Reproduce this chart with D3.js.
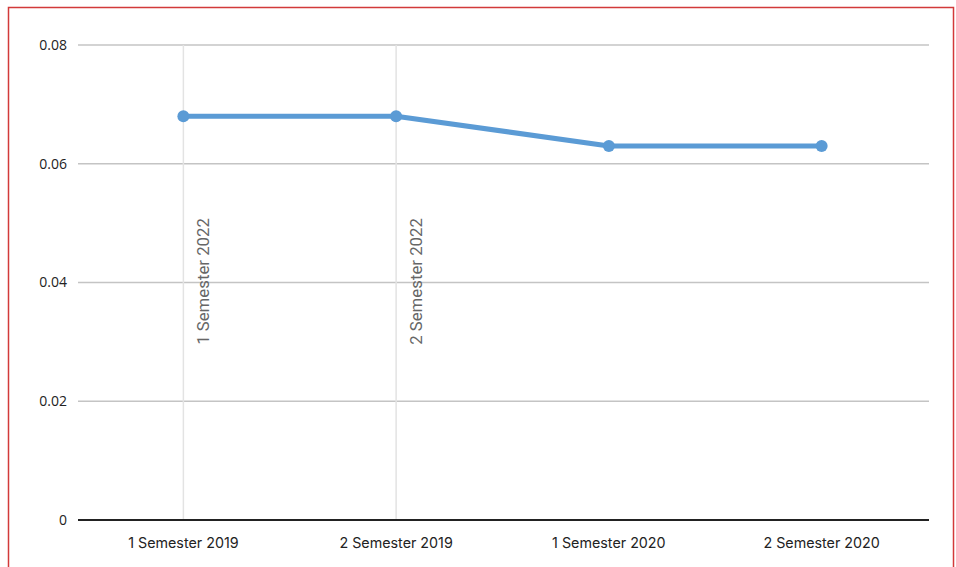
<!DOCTYPE html>
<html><head><meta charset="utf-8">
<script src="https://cdn.jsdelivr.net/npm/d3@7"></script>
<style>
html,body{margin:0;padding:0;background:#fff;}
svg{display:block;}
</style></head>
<body>
<svg id="chart" width="956" height="567"></svg>
<script>
const categories = ["1 Semester 2019", "2 Semester 2019", "1 Semester 2020", "2 Semester 2020"];
const values = [0.068, 0.068, 0.063, 0.063];
const yTicks = [0, 0.02, 0.04, 0.06, 0.08];
const annotationCats = ["1 Semester 2019", "2 Semester 2019"];
const annotationLabels = ["1 Semester 2022", "2 Semester 2022"];

const svg = d3.select("#chart");
const W = 956, H = 567;
const m = {left: 78, right: 27, top: 45, bottom: 47};

svg.append("rect").attr("x", 8.5).attr("y", 7.5).attr("width", 945).attr("height", 570)
  .attr("fill", "none").attr("stroke", "#d23a3a").attr("stroke-width", 1.5);

const x = d3.scaleBand().domain(categories).range([m.left, W - m.right]);
const y = d3.scaleLinear().domain([0, 0.08]).range([H - m.bottom, m.top]);

// gridlines
svg.append("g").selectAll("line").data(yTicks.filter(d => d > 0)).join("line")
  .attr("x1", m.left).attr("x2", W - m.right)
  .attr("y1", d => y(d)).attr("y2", d => y(d))
  .attr("stroke", "#c4c4c4").attr("stroke-width", 1.5);

// y labels
svg.append("g").selectAll("text").data(yTicks).join("text")
  .attr("x", 67).attr("y", d => y(d)).attr("dy", "0.35em")
  .attr("text-anchor", "end")
  .attr("font-family", "'Open Sans', sans-serif").attr("font-size", 14)
  .attr("fill", "#222")
  .text(d => d === 0 ? "0" : d3.format(".2f")(d));

// annotation lines
const ann = svg.append("g");
annotationCats.forEach((c, i) => {
  const cx = x(c) + x.bandwidth() / 2 - 1;
  ann.append("line").attr("x1", cx).attr("x2", cx)
    .attr("y1", y(0.08)).attr("y2", y(0))
    .attr("stroke", "#e3e3e3").attr("stroke-width", 1.5);
  ann.append("text")
    .attr("transform", `translate(${cx + 26},${y(0.0295)}) rotate(-90)`)
    .attr("font-family", "Roboto, sans-serif").attr("font-size", 16.8)
    .attr("fill", "#666")
    .text(annotationLabels[i]);
});

// x axis baseline
svg.append("line").attr("x1", m.left).attr("x2", W - m.right)
  .attr("y1", y(0)).attr("y2", y(0))
  .attr("stroke", "#222").attr("stroke-width", 2);

// x labels
svg.append("g").selectAll("text").data(categories).join("text")
  .attr("x", d => x(d) + x.bandwidth() / 2 - 1).attr("y", y(0) + 28)
  .attr("text-anchor", "middle")
  .attr("font-family", "Inter, sans-serif").attr("font-size", 14.3)
  .attr("fill", "#222")
  .text(d => d);

// line
const line = d3.line().x((d, i) => x(categories[i]) + x.bandwidth() / 2 - 1).y(d => y(d));
svg.append("path").datum(values).attr("d", line)
  .attr("fill", "none").attr("stroke", "#5b9bd5").attr("stroke-width", 5)
  .attr("stroke-linejoin", "round");
svg.append("g").selectAll("circle").data(values).join("circle")
  .attr("cx", (d, i) => x(categories[i]) + x.bandwidth() / 2 - 1).attr("cy", d => y(d))
  .attr("r", 6).attr("fill", "#5b9bd5");
</script>
</body></html>
